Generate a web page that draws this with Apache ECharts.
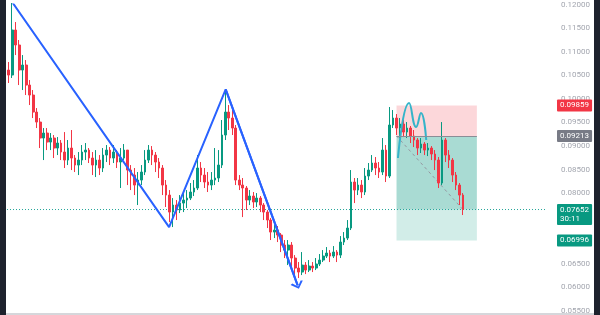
<!DOCTYPE html>
<html><head><meta charset="utf-8">
<script src="https://cdn.jsdelivr.net/npm/echarts@6.0.0/dist/echarts.min.js"></script>
<style>html,body{margin:0;padding:0;background:#fff;overflow:hidden}#c{width:600px;height:315px}</style>
</head><body><div id="c"></div>
<script>
// ---- data ----
const firstOpen = 0.10610;
const closes = [0.10504,0.11459,0.11141,0.10610,0.10716,0.10292,0.10080,0.09719,0.09507,0.09168,
0.09274,0.09083,0.09168,0.08956,0.09062,0.08871,0.08701,0.08956,0.08744,0.08595,
0.08701,0.08871,0.08913,0.08744,0.08595,0.08701,0.08532,0.08807,0.08913,0.08744,
0.08871,0.08659,0.08744,0.08913,0.08489,0.08383,0.08171,0.08277,0.08447,0.08701,
0.08913,0.08807,0.08659,0.08532,0.08171,0.07959,0.07598,0.07747,0.07641,0.07789,
0.07853,0.07895,0.08023,0.08108,0.08532,0.08383,0.08235,0.08171,0.08277,0.08320,
0.08595,0.09232,0.09719,0.09592,0.09380,0.08277,0.08171,0.08108,0.07853,0.07938,
0.07811,0.07895,0.07747,0.07598,0.07429,0.07174,0.07217,0.07111,0.06899,0.06792,
0.06899,0.06623,0.06411,0.06326,0.06474,0.06368,0.06453,0.06411,0.06496,0.06580,
0.06665,0.06729,0.06665,0.06750,0.06686,0.06962,0.07047,0.07259,0.08235,0.08065,
0.08171,0.08023,0.08362,0.08489,0.08638,0.08532,0.08447,0.08913,0.08362,0.09444,
0.09592,0.09380,0.09465,0.09295,0.09380,0.09210,0.09126,0.08956,0.09041,0.08913,
0.08956,0.08829,0.08701,0.08214,0.09126,0.08807,0.08701,0.08383,0.08171,0.07959,
0.07652];
const highs = [0.10780,0.12031,0.11628,0.11247,0.10928,0.10822,0.10398,0.10186,0.09804,0.09592,
0.09380,0.09380,0.09274,0.09232,0.09189,0.09126,0.09295,0.09126,0.09338,0.08807,
0.08871,0.09020,0.09062,0.08956,0.08871,0.08913,0.08807,0.08956,0.09020,0.08977,
0.09020,0.08913,0.08956,0.09041,0.08913,0.08595,0.08532,0.08447,0.08595,0.08913,
0.09020,0.08998,0.08871,0.08744,0.08595,0.08277,0.08065,0.07895,0.07853,0.07959,
0.08023,0.08065,0.08214,0.08277,0.08807,0.08659,0.08532,0.08447,0.08447,0.08956,
0.08913,0.09550,0.10207,0.09868,0.09762,0.09444,0.08383,0.08320,0.08150,0.08065,
0.08023,0.08001,0.07938,0.07789,0.07641,0.07471,0.07323,0.07302,0.07153,0.07005,
0.07005,0.06962,0.06686,0.06538,0.06750,0.06538,0.06580,0.06538,0.06623,0.06708,
0.06792,0.06856,0.06792,0.06877,0.06792,0.07089,0.07174,0.07429,0.08489,0.08320,
0.08320,0.08277,0.08532,0.08638,0.08807,0.08765,0.08659,0.09168,0.09020,0.09826,
0.09762,0.09677,0.09592,0.09550,0.09507,0.09423,0.09338,0.09168,0.09168,0.09083,
0.09062,0.08998,0.08913,0.08765,0.09507,0.09168,0.08913,0.08744,0.08447,0.08214,
0.08001];
const lows = [0.10335,0.10441,0.10928,0.10292,0.10186,0.10080,0.09868,0.09592,0.09380,0.08956,
0.08701,0.08913,0.08913,0.08744,0.08807,0.08701,0.08532,0.08595,0.08489,0.08447,
0.08383,0.08595,0.08701,0.08638,0.08383,0.08341,0.08383,0.08447,0.08659,0.08595,
0.08638,0.08532,0.08108,0.08701,0.08171,0.08065,0.07959,0.07747,0.08171,0.08383,
0.08638,0.08595,0.08447,0.08320,0.07959,0.07705,0.07386,0.07280,0.07429,0.07577,
0.07598,0.07683,0.07853,0.07938,0.08065,0.08235,0.08108,0.08023,0.08065,0.08171,
0.08235,0.08532,0.09126,0.09338,0.09232,0.08171,0.08065,0.07492,0.07641,0.07747,
0.07683,0.07705,0.07598,0.07429,0.07259,0.07005,0.07047,0.06962,0.06750,0.06623,
0.06474,0.06411,0.06220,0.06199,0.06262,0.06283,0.06326,0.06326,0.06368,0.06453,
0.06538,0.06623,0.06538,0.06623,0.06538,0.06623,0.06899,0.07005,0.07217,0.07789,
0.07959,0.07895,0.07959,0.08277,0.08447,0.08383,0.08320,0.08383,0.08235,0.08320,
0.09380,0.09232,0.09168,0.09189,0.09168,0.09062,0.08977,0.08807,0.08850,0.08807,
0.08786,0.08701,0.08489,0.08108,0.08171,0.08659,0.08532,0.08235,0.08065,0.07747,
0.07535];
const slotCount = 154;              // candle slots incl. empty right margin
const zigzagX = [1.1, 45.9, 62.1, 82.7];
const zigzagY = [0.12038, 0.07280, 0.10201, 0.06044];
const pathX = [111.4, 114.6, 116.6, 118.0, 119.5];
const pathY = [0.08744, 0.09910, 0.09401, 0.09698, 0.09126];
const posStart = 111, posEnd = 134;
const stopPrice = 0.09859, entryPrice = 0.09213, currentPrice = 0.07652, targetPrice = 0.06996;
const countdown = '30:11';
const yMin = 0.055, yMax = 0.12, yStep = 0.005;

// ---- build ----
const UP = '#089981', DOWN = '#f23645';
const cats = Array.from({length: slotCount}, (_, i) => String(i));
const candles = closes.map((c, i) => [i === 0 ? firstOpen : closes[i - 1], c, lows[i], highs[i]]);
const lastIdx = closes.length - 1;
const xLo = -0.5, xHi = slotCount - 0.5;
const fmt = v => v.toFixed(5);
const boxLabel = (bg, text, extra) => Object.assign({
  show: true, position: 'end', distance: 12, formatter: text,
  backgroundColor: bg, color: '#ffffff', fontSize: 8, fontFamily: 'Roboto',
  padding: [2, 3, 1, 3], borderRadius: 1, lineHeight: 9
}, extra || {});
const hiddenLine = {color: 'rgba(0,0,0,0)', width: 0.01, type: 'solid'};

const chart = echarts.init(document.getElementById('c'), null, {renderer: 'canvas'});
chart.setOption({
  animation: false,
  backgroundColor: '#ffffff',
  grid: {left: 7, right: 55, top: 4.5, bottom: 4},
  xAxis: [
    {type: 'category', data: cats, show: false, boundaryGap: true},
    {type: 'value', min: xLo, max: xHi, show: false}
  ],
  yAxis: {
    type: 'value', position: 'right', min: yMin, max: yMax, interval: yStep,
    axisLine: {show: false}, axisTick: {show: false}, splitLine: {show: false},
    axisLabel: {color: '#a3a6af', fontSize: 8, fontFamily: 'Roboto', margin: 16, formatter: fmt}
  },
  series: [
    { // position tool zones
      type: 'line', xAxisIndex: 1, data: [[posStart, entryPrice]], symbol: 'none',
      lineStyle: {opacity: 0}, z: 1, silent: true,
      markArea: {silent: true, data: [
        [{xAxis: posStart, yAxis: stopPrice, itemStyle: {color: 'rgba(242,54,69,0.2)'}}, {xAxis: posEnd, yAxis: entryPrice}],
        [{xAxis: posStart, yAxis: entryPrice, itemStyle: {color: 'rgba(8,153,129,0.35)'}}, {xAxis: posEnd, yAxis: currentPrice}],
        [{xAxis: posStart, yAxis: currentPrice, itemStyle: {color: 'rgba(8,153,129,0.18)'}}, {xAxis: posEnd, yAxis: targetPrice}]
      ]},
      markLine: {silent: true, symbol: ['none', 'none'], label: {show: false},
        lineStyle: {color: '#8a8d96', width: 1, type: 'solid'},
        data: [[{coord: [posStart, entryPrice]}, {coord: [posEnd, entryPrice]}]]}
    },
    { // dashed diagonal of position tool
      type: 'line', xAxisIndex: 1, symbol: 'none', z: 2, silent: true,
      data: [[posStart, entryPrice], [lastIdx, currentPrice]],
      lineStyle: {color: '#9598a1', width: 1, type: [3, 3]}
    },
    { // current price dotted line
      type: 'line', xAxisIndex: 1, symbol: 'none', z: 2, silent: true,
      data: [[xLo, currentPrice], [xHi, currentPrice]],
      lineStyle: {color: '#26a69a', width: 1, type: [1, 2]}
    },
    { // candles
      type: 'candlestick', xAxisIndex: 0, data: candles, barWidth: 2.2, clip: false, z: 3,
      itemStyle: {color: UP, color0: DOWN, borderColor: UP, borderColor0: DOWN, borderWidth: 1}
    },
    { // price tags on the scale
      type: 'line', xAxisIndex: 1, data: [[lastIdx, currentPrice]], symbol: 'none',
      lineStyle: {opacity: 0}, z: 5, silent: true,
      markLine: {silent: true, symbol: ['none', 'none'], precision: 5,
        lineStyle: hiddenLine,
        data: [
          {yAxis: currentPrice, label: boxLabel(UP, fmt(currentPrice) + '\n' + countdown, {offset: [0, 5]})},
          {yAxis: stopPrice, label: boxLabel(DOWN, fmt(stopPrice))},
          {yAxis: entryPrice, label: boxLabel('#787b86', fmt(entryPrice))},
          {yAxis: targetPrice, label: boxLabel(UP, fmt(targetPrice))}
        ]}
    },
    { // zigzag drawing
      type: 'line', xAxisIndex: 1, symbol: 'none', z: 4, silent: true,
      data: zigzagX.map((x, i) => [x, zigzagY[i]]),
      lineStyle: {color: '#2962ff', width: 2},
      markLine: {silent: true, symbol: ['none', 'path://M0,9 L5,0 L10,9 L8.4,10 L5,3.4 L1.6,10 Z'],
        symbolSize: [13, 7], label: {show: false},
        lineStyle: {color: '#2962ff', width: 2, type: 'solid'},
        data: [[{coord: [zigzagX[2], zigzagY[2]]}, {coord: [zigzagX[3], zigzagY[3]]}]]}
    },
    { // cyan path drawing
      type: 'line', xAxisIndex: 1, symbol: 'none', smooth: 0.5, z: 4, silent: true,
      data: pathX.map((x, i) => [x, pathY[i]]),
      lineStyle: {color: '#35b4c9', width: 2}
    }
  ],
  graphic: [
    {type: 'rect', left: 0, top: 0, shape: {width: 6, height: 315}, style: {fill: '#1e222d'}, z: 100},
    {type: 'rect', left: 594, top: 0, shape: {width: 6, height: 315}, style: {fill: '#1e222d'}, z: 100},
    {type: 'rect', left: 6, top: 313, shape: {width: 588, height: 2}, style: {fill: '#d6d7db'}, z: 100}
  ]
});
</script>
</body></html>
